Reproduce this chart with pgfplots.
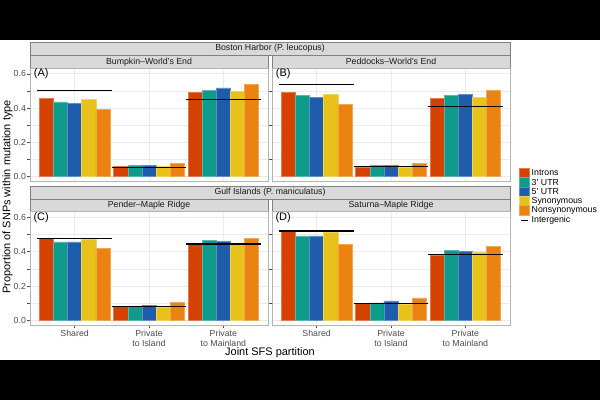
\documentclass[border=0pt]{standalone}
\usepackage{pgfplots}
\usepackage{pgfplotstable}
\pgfplotsset{compat=1.18}
\usepackage{fontspec}
\setmainfont{Liberation Sans}

\definecolor{cIntron}{RGB}{213,66,0}
\definecolor{cUTRthree}{RGB}{14,155,140}
\definecolor{cUTRfive}{RGB}{31,93,172}
\definecolor{cSyn}{RGB}{232,193,26}
\definecolor{cNonsyn}{RGB}{234,131,16}
\definecolor{gridc}{RGB}{235,235,235}
\definecolor{panelc}{RGB}{180,180,180}
\definecolor{stripfill}{RGB}{217,217,217}
\definecolor{stripline}{RGB}{128,128,128}
\definecolor{ticktext}{RGB}{77,77,77}
\definecolor{striptext}{RGB}{26,26,26}

\newcommand\sz[2]{\fontsize{#1}{#2}\selectfont}

% Proportion of SNPs per partition (pos: 1 Shared, 2 Private to Island, 3 Private to Mainland)
\pgfplotstableread{
pos intron utr3 utr5 syn nonsyn inter
1 0.455 0.437 0.426 0.451 0.391 0.502
2 0.059 0.065 0.067 0.059 0.078 0.053
3 0.494 0.506 0.518 0.496 0.537 0.453
}\dataA
\pgfplotstableread{
pos intron utr3 utr5 syn nonsyn inter
1 0.490 0.473 0.463 0.480 0.424 0.537
2 0.055 0.067 0.067 0.055 0.078 0.059
3 0.455 0.473 0.479 0.463 0.506 0.410
}\dataB
\pgfplotstableread{
pos intron utr3 utr5 syn nonsyn inter
1 0.476 0.457 0.457 0.472 0.420 0.478
2 0.081 0.081 0.089 0.078 0.107 0.081
3 0.443 0.464 0.461 0.443 0.478 0.445
}\dataC
\pgfplotstableread{
pos intron utr3 utr5 syn nonsyn inter
1 0.519 0.492 0.492 0.511 0.445 0.521
2 0.101 0.103 0.114 0.097 0.132 0.099
3 0.381 0.409 0.403 0.399 0.432 0.383
}\dataD

\pgfplotsset{
  panel/.style={
    scale only axis, width=238bp, anchor=south west,
    xmin=0.4, xmax=3.6, ymin=-0.0302, ymax=0.633,
    xtick={1,2,3}, ytick={0,0.2,0.4,0.6}, minor ytick={0.1,0.3,0.5},
    xmajorgrids, ymajorgrids, yminorgrids,
    major grid style={gridc, line width=0.9bp},
    minor grid style={gridc, line width=0.45bp},
    yminorticks=false, xminorticks=false,
    axis line style={panelc, line width=0.8bp},
    tick align=outside, major tick length=2.7bp,
    tick style={ticktext, line width=0.6bp},
    xtick pos=bottom, ytick pos=left,
    xticklabels={}, yticklabels={},
    ticklabel style={font=\sz{8.8}{9.7}, text=ticktext},
    yticklabel style={inner sep=1.2bp},
    xticklabel style={align=center, inner sep=1.5bp},
  },
  bars/.style={ybar, bar width=0.19, line width=0.5bp},
}

% five dodged bar series plus the intergenic reference segments
\newcommand\panelplots[1]{%
  \addplot[bars, bar shift=-0.38, fill=cIntron, draw=cIntron!70!white] table[x=pos,y=intron]{#1};
  \addplot[bars, bar shift=-0.19, fill=cUTRthree, draw=cUTRthree!70!white] table[x=pos,y=utr3]{#1};
  \addplot[bars, bar shift=0, fill=cUTRfive, draw=cUTRfive!70!white] table[x=pos,y=utr5]{#1};
  \addplot[bars, bar shift=0.19, fill=cSyn, draw=cSyn!70!white] table[x=pos,y=syn]{#1};
  \addplot[bars, bar shift=0.38, fill=cNonsyn, draw=cNonsyn!70!white] table[x=pos,y=nonsyn]{#1};
  \addplot[draw=none, mark=none,
    error bars/.cd, x dir=both, x fixed=0.5, error mark=none,
    error bar style={draw=black, solid, line width=1.1bp}]
    table[x=pos,y=inter]{#1};
}

\begin{document}
\begin{tikzpicture}
\begin{scope}[x=1bp,y=1bp]
\path[use as bounding box] (0,0) rectangle (600,400);
\fill[black] (0,0) rectangle (600,40);
\fill[black] (0,360) rectangle (600,400);
\fill[white] (0,40) rectangle (600,360);

% strips
\tikzset{strip/.style={fill=stripfill, draw=stripline, line width=0.7bp}}
\draw[strip] (30,344.8) rectangle (510,358);
\node[font=\sz{8.8}{10}, text=striptext] at (270,351.4) {Boston Harbor (P. leucopus)};
\draw[strip] (30,331.7) rectangle (268,344.8);
\node[font=\sz{8.8}{10}, text=striptext] at (149,338.2) {Bumpkin–World's End};
\draw[strip] (272,331.7) rectangle (510,344.8);
\node[font=\sz{8.8}{10}, text=striptext] at (391,338.2) {Peddocks–World's End};

\draw[strip] (30,201) rectangle (510,214);
\node[font=\sz{8.8}{10}, text=striptext] at (270,207.5) {Gulf Islands (P. maniculatus)};
\draw[strip] (30,188.3) rectangle (268,201);
\node[font=\sz{8.8}{10}, text=striptext] at (149,194.6) {Pender–Maple Ridge};
\draw[strip] (272,188.3) rectangle (510,201);
\node[font=\sz{8.8}{10}, text=striptext] at (391,194.6) {Saturna–Maple Ridge};

% axis titles
\node[font=\sz{11}{12}, rotate=90] at (7.5,203) {Proportion of SNPs within mutation type};
\node[font=\sz{11}{12}] at (270,47.5) {Joint SFS partition};

% legend
\foreach \c/\t [count=\i from 0] in {cIntron/Introns, cUTRthree/3' UTR, cUTRfive/5' UTR, cSyn/Synonymous, cNonsyn/Nonsynonymous}{
  \pgfmathsetmacro\yt{231.7-9.35*\i}
  \fill[\c, draw=\c!70!white, line width=0.5bp] (519,\yt-9.35) rectangle (529,\yt);
  \node[font=\sz{8.8}{10}, anchor=west, inner sep=0pt] at (531.5,\yt-4.675) {\t};
}
\draw[black, line width=1.1bp] (520.5,179.3) -- (527.5,179.3);
\node[font=\sz{8.8}{10}, anchor=west, inner sep=0pt] at (531.5,179.3) {Intergenic};
\end{scope}

% panel A
\begin{axis}[panel, at={(30bp,218.3bp)}, height=113.4bp, xmajorticks=false,
  yticklabels={0.0,0.2,0.4,0.6}]
\panelplots{\dataA}
\node[font=\sz{11}{12}] at (axis cs:0.55,0.6) {(A)};
\end{axis}

% panel B
\begin{axis}[panel, at={(272bp,218.3bp)}, height=113.4bp, xmajorticks=false, ymajorticks=false]
\panelplots{\dataB}
\node[font=\sz{11}{12}] at (axis cs:0.55,0.6) {(B)};
\end{axis}

% panel C
\begin{axis}[panel, at={(30bp,74.3bp)}, height=114bp,
  yticklabels={0.0,0.2,0.4,0.6},
  xticklabels={Shared,Private\\to Island,Private\\to Mainland}]
\panelplots{\dataC}
\node[font=\sz{11}{12}] at (axis cs:0.55,0.6) {(C)};
\end{axis}

% panel D
\begin{axis}[panel, at={(272bp,74.3bp)}, height=114bp, ymajorticks=false,
  xticklabels={Shared,Private\\to Island,Private\\to Mainland}]
\panelplots{\dataD}
\node[font=\sz{11}{12}] at (axis cs:0.55,0.6) {(D)};
\end{axis}
\end{tikzpicture}
\end{document}
